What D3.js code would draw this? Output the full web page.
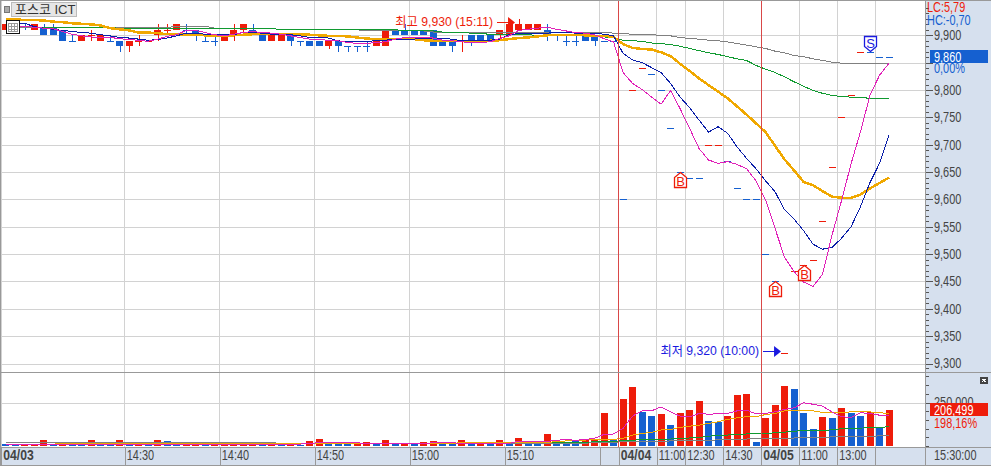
<!DOCTYPE html>
<html>
<head>
<meta charset="utf-8">
<script src="https://d3js.org/d3.v7.min.js"></script>
<style>
html, body { margin: 0; padding: 0; background: #fff; }
svg { display: block; }
text { font-family: "Liberation Sans", "Noto Sans CJK KR", sans-serif; }
.crisp { shape-rendering: crispEdges; }
.domain { display: none; }
</style>
</head>
<body>
<div id="chart"></div>
<script>
const WIDTH = 991, HEIGHT = 466;
const PLOT_R = 925, PRICE_TOP = 1, PRICE_BOTTOM = 372, VOL_BOTTOM = 447;
const colorUp = '#ee1c0a', colorDown = '#1560d0', axisText = '#444', gridColor = '#d2d2d2', frameColor = '#999', panelBg = '#d6e0ee';

// bar direction, open, close, high, low per bar (04/03 intraday, then 04/04, 04/05)
const candleDir = ('u d d u d d d d u u u d d u u u u u u d d d d u u u d d u u ' +
    'd d d d u d d d d u u d d d d d d d u d d d u u u u u d d d d d d d d ' +
    'd u u d d d d d d u u d d d d d d u u u u u u u u u d d').split(' ');
const openP = [9910,9915,9915,9910,9915,9915,9910,9890,9890,9900,
    9890,9890,9890,9880,9890,9890,9900,9910,9910,9910,
    9910,9890,9890,9890,9900,9910,9910,9900,9890,9890,
    9900,9890,9890,9890,9880,9890,9880,9880,9880,9880,
    9880,9910,9910,9910,9910,9910,9890,9890,9890,9900,
    9900,9900,9900,9900,9910,9910,9910,9910,9900,9890,
    9890,9900,9900,9890,9890,9600,9800,9840,9830,9800,
    9730,9650,9640,9640,9700,9700,9670,9620,9600,9600,
    9500,9450,9320,9470,9480,9490,9560,9660,9750,9790,
    9870,9870,9860,9860];
const closeP = [9920,9910,9915,9920,9900,9900,9890,9890,9900,9900,
    9900,9890,9880,9890,9890,9890,9910,9910,9920,9910,
    9900,9890,9890,9900,9910,9920,9900,9890,9900,9900,
    9890,9890,9880,9880,9890,9880,9880,9880,9880,9890,
    9910,9900,9900,9900,9900,9880,9880,9880,9890,9890,
    9890,9890,9910,9920,9920,9920,9920,9900,9900,9890,
    9890,9890,9890,9890,9890,9600,9800,9840,9830,9800,
    9730,9650,9640,9640,9700,9700,9670,9620,9600,9600,
    9500,9450,9320,9470,9480,9490,9560,9660,9750,9790,
    9870,9870,9860,9860];
const highP = [9920,9920,9920,9920,9920,9920,9910,9900,9900,9910,
    9900,9900,9890,9890,9900,9892,9920,9920,9920,9920,
    9910,9900,9900,9900,9920,9920,9920,9900,9900,9900,
    9900,9890,9890,9890,9890,9890,9880,9880,9890,9890,
    9910,9910,9920,9910,9910,9910,9890,9890,9900,9900,
    9900,9900,9910,9920,9930,9920,9920,9920,9900,9900,
    9900,9900,9900,9890,9890,9600,9800,9840,9830,9800,
    9730,9650,9640,9640,9700,9700,9670,9620,9600,9600,
    9500,9450,9320,9470,9480,9490,9560,9660,9750,9790,
    9870,9870,9860,9860];
const lowP = [9910,9905,9910,9910,9900,9900,9890,9890,9890,9890,
    9890,9890,9870,9870,9880,9888,9890,9900,9910,9900,
    9890,9890,9880,9890,9890,9900,9900,9890,9890,9890,
    9880,9880,9880,9880,9875,9870,9870,9870,9870,9880,
    9880,9900,9900,9900,9900,9880,9880,9870,9870,9880,
    9890,9890,9890,9900,9910,9910,9910,9890,9890,9880,
    9880,9890,9880,9890,9890,9600,9800,9840,9830,9800,
    9730,9650,9640,9640,9700,9700,9670,9620,9600,9600,
    9500,9450,9320,9470,9480,9490,9560,9660,9750,9790,
    9870,9870,9860,9860];

// moving averages on price
const maMagenta = [9919,9917,9916,9915,9913,9912,9907,9902,9899,9897,
    9896,9896,9894,9892,9891,9889,9893,9898,9901,9909,
    9909,9905,9901,9899,9902,9905,9907,9905,9904,9902,
    9899,9896,9893,9892,9891,9890,9887,9885,9885,9887,
    9888,9893,9896,9896,9896,9895,9891,9890,9888,9887,
    9887,9888,9894,9899,9909,9911,9913,9915,9911,9908,
    9905,9904,9901,9894,9888,9832,9812,9801,9787,9774,
    9799,9766,9730,9693,9672,9666,9669,9664,9656,9634,
    9599,9547,9494,9468,9449,9441,9463,9535,9598,9665,
    9724,9791,9827,9849];
const maNavy = [9925,9923,9922,9916,9913,9911,9909,9907,9905,9904,
    9901,9899,9896,9895,9893,9891,9892,9895,9899,9904,
    9904,9902,9901,9901,9901,9905,9905,9904,9902,9901,
    9901,9899,9896,9896,9895,9890,9888,9888,9889,9890,
    9891,9893,9893,9893,9895,9895,9894,9893,9890,9890,
    9891,9891,9893,9901,9903,9904,9904,9904,9905,9905,
    9904,9904,9904,9902,9899,9867,9855,9850,9841,9832,
    9812,9787,9768,9745,9723,9733,9721,9696,9675,9656,
    9634,9614,9581,9564,9543,9518,9509,9512,9529,9550,
    9587,9631,9666,9718];
const maOrange = [9929,9929,9928,9928,9927,9925,9924,9922,9921,9920,
    9918,9913,9911,9909,9905,9905,9904,9902,9902,9901,
    9901,9900,9900,9900,9900,9901,9902,9902,9902,9902,
    9902,9902,9901,9900,9899,9899,9898,9896,9894,9893,
    9893,9893,9893,9893,9891,9890,9890,9890,9890,9890,
    9890,9890,9891,9893,9895,9896,9898,9900,9901,9901,
    9901,9900,9899,9899,9897,9884,9877,9875,9874,9869,
    9862,9848,9835,9821,9809,9797,9785,9770,9755,9739,
    9723,9698,9673,9653,9632,9626,9615,9605,9603,9603,
    9609,9620,9630,9640];
const maGreen = [9916,9916,9916,9915,9915,9915,9915,9915,9915,9915,
    9914,9914,9913,9913,9913,9913,9913,9913,9913,9913,
    9913,9912,9912,9912,9912,9912,9912,9912,9912,9911,
    9911,9911,9911,9911,9911,9911,9911,9911,9910,9910,
    9910,9910,9909,9909,9909,9908,9906,9905,9905,9904,
    9903,9902,9902,9902,9901,9901,9900,9900,9901,9902,
    9902,9902,9899,9897,9896,9891,9890,9889,9886,9885,
    9883,9880,9876,9872,9868,9865,9861,9857,9854,9845,
    9838,9832,9824,9815,9807,9799,9794,9790,9788,9787,
    9786,9785,9785,9785];
const maGray = [9914,9914,9914,9914,9914,9914,9914,9914,9914,9914,
    9914,9914,9914,9914,9914,9914,9914,9914,9917,9917,
    9917,9917,9913,9913,9913,9913,9913,9913,9913,9910,
    9910,9910,9910,9910,9910,9910,9910,9910,9908,9908,
    9908,9908,9908,9908,9908,9906,9906,9906,9906,9905,
    9905,9905,9905,9905,9905,9905,9905,9906,9906,9906,
    9906,9905,9905,9905,9904,9903,9902,9902,9901,9900,
    9899,9896,9894,9893,9891,9890,9888,9885,9882,9879,
    9876,9871,9868,9863,9861,9857,9854,9851,9849,9849,
    9849,9849,9849,9849];

// volume
const volDir = ('d d u u u d u d d u d d u d u d u d d u u d u u u u u d u d ' +
    'u d u u d d d u u d u d u d u u d d u d u d u d u d d u d d d u u u d ' +
    'u u d d u d u u u d d u u u d u u u d d d u d u d d u d u').split(' ');
const volumes = [11400,5700,5700,5700,34300,5700,11400,11400,5700,34300,
    11400,5700,34300,11400,11400,11400,34300,28600,11400,11400,
    11400,11400,7600,7600,11400,7600,7600,7600,11400,5700,
    5700,5700,28600,40000,11400,11400,11400,11400,22900,11400,
    34300,11400,11400,11400,22900,28600,22900,11400,34300,11400,
    11400,11400,34300,11400,45800,11400,11400,68700,34300,11400,
    34300,34300,40000,189000,36000,269000,337000,195000,172000,183000,
    120000,189000,206000,257000,143000,137000,172000,292000,297000,23000,
    160000,235000,343000,326000,189000,97000,166000,160000,217000,189000,
    172000,195000,109000,206499];
// volume averages, in thousands
const volMaMagenta = [11,11,11,11,11,11,11,11,11,11,11,11,11,11,11,11,11,11,11,11,
    11,11,11,11,11,11,11,11,11,11,11,11,15,19,19,19,19,19,13,13,
    13,13,13,13,13,19,19,19,15,15,15,15,15,15,27,27,27,27,32,38,
    32,38,44,67,69,101,172,202,202,225,196,172,168,187,183,185,187,202,206,185,
    187,196,210,219,248,240,229,196,168,164,191,187,177,177];
const volMaOrange = [11,11,11,11,11,11,13,13,13,13,13,13,13,13,13,13,13,13,13,13,
    13,13,13,13,13,13,13,13,13,13,13,13,13,13,13,13,13,13,13,13,
    13,13,13,13,13,13,13,13,21,21,21,21,21,21,21,21,21,21,25,29,
    32,34,38,38,38,44,63,72,78,92,95,107,114,120,130,139,153,162,168,168,
    181,187,202,206,206,202,193,193,193,196,198,196,191,187];
const volMaGreen = [19,19,19,19,19,19,19,19,19,19,19,19,19,19,19,19,19,19,19,19,
    19,19,19,19,19,19,19,19,19,15,15,15,15,15,15,15,15,15,15,15,
    15,15,15,15,15,15,15,15,15,15,15,19,19,19,19,19,19,19,19,19,
    19,19,25,25,27,31,32,38,38,38,40,44,46,48,57,59,63,65,69,71,
    72,76,80,84,90,90,90,93,99,101,103,105,107,111];
const volMaGray = [19,19,19,19,19,19,19,19,19,19,19,19,19,19,19,19,19,19,19,19,
    19,19,19,19,19,19,19,19,19,15,15,15,15,15,15,15,15,15,15,15,
    15,15,15,15,15,15,15,15,15,15,15,15,15,15,15,15,15,15,15,15,
    15,15,21,21,21,25,27,27,27,27,29,31,31,33,33,35,36,38,40,42,
    42,44,44,46,48,48,50,52,54,54,56,56,58,61];

// x axis
const tickIdx = [0,13,23,33,43,53,63,65,69,72,76,80,84,88,92];
const tickLabels = ['04/03','14:30','14:40','14:50','15:00','15:10','','04/04','11:00','12:30','14:30','04/05','11:00','13:00',''];
const boldTicks = ['04/03','04/04','04/05'];
const dayLines = [65, 80];
// trade markers
const buyMarks = [71, 81, 84];
const sellMarks = [91];

const N = volumes.length;
const svg = d3.select('#chart').append('svg').attr('width', WIDTH).attr('height', HEIGHT)
    .attr('viewBox', [0, 0, WIDTH, HEIGHT]);

const xBand = d3.scaleBand().domain(d3.range(N)).range([0.8, 0.8 + 9.5 * N]).paddingInner(0.26).paddingOuter(0.13);
const xEdge = d3.scaleLinear().domain([0, N]).range([0.8, 0.8 + 9.5 * N]);
const xMid = i => xBand(i) + xBand.bandwidth() / 2;
const yPrice = d3.scaleLinear().domain([9300, 9900]).range([363.5, 35.3]);
const yVol = d3.scaleLinear().domain([0, 250000]).range([446, 402.5]);

// the chart font is narrower than anything installed, so squeeze the glyphs
function Squeeze(sel, factor) {
    sel.each(function () {
        const len = this.getComputedTextLength();
        if (len > 0) {
            d3.select(this).attr('textLength', len * factor).attr('lengthAdjust', 'spacingAndGlyphs');
        }
    });
}

// backgrounds
svg.append('rect').attr('class', 'crisp').attr('x', 0).attr('y', 0).attr('width', WIDTH).attr('height', HEIGHT).attr('fill', panelBg);
svg.append('rect').attr('class', 'crisp').attr('x', 0).attr('y', 0).attr('width', PLOT_R).attr('height', VOL_BOTTOM).attr('fill', '#fff');

// grid
const grid = svg.append('g').attr('class', 'crisp').attr('stroke', gridColor);
grid.selectAll('.gx').data(tickIdx).join('line')
    .attr('x1', d => Math.round(xEdge(d)) + 0.5).attr('x2', d => Math.round(xEdge(d)) + 0.5)
    .attr('y1', PRICE_TOP).attr('y2', VOL_BOTTOM);
grid.selectAll('.gy').data(d3.range(9300, 9901, 50)).join('line')
    .attr('x1', 0).attr('x2', PLOT_R)
    .attr('y1', d => Math.round(yPrice(d)) + 0.5).attr('y2', d => Math.round(yPrice(d)) + 0.5);
grid.append('line').attr('x1', 0).attr('x2', PLOT_R)
    .attr('y1', Math.round(yVol(250000)) + 0.5).attr('y2', Math.round(yVol(250000)) + 0.5);

// volume bars
svg.append('g').attr('class', 'crisp').selectAll('rect').data(volumes).join('rect')
    .attr('x', (d, i) => Math.round(xBand(i)))
    .attr('width', 7)
    .attr('y', d => yVol(d))
    .attr('height', d => yVol(0) - yVol(d))
    .attr('fill', (d, i) => volDir[i] === 'u' ? colorUp : colorDown);

function DrawLine(data, accessor, yScale, color, width) {
    svg.append('path')
        .datum(data)
        .attr('class', 'crisp')
        .attr('fill', 'none')
        .attr('stroke', color)
        .attr('stroke-width', width)
        .attr('d', d3.line().x((d, i) => xMid(i)).y(d => yScale(accessor(d))));
}
DrawLine(volMaGreen, d => d * 1000, yVol, '#109a30', 1);
DrawLine(volMaGray, d => d * 1000, yVol, '#808080', 1);
DrawLine(volMaOrange, d => d * 1000, yVol, '#f0a800', 1);
DrawLine(volMaMagenta, d => d * 1000, yVol, '#e020b8', 1);

// candles
const candles = svg.append('g').attr('class', 'crisp');
const candleColor = i => candleDir[i] === 'u' ? colorUp : colorDown;
candles.selectAll('.wick').data(highP).join('line')
    .attr('x1', (d, i) => Math.round(xMid(i)) + 0.5).attr('x2', (d, i) => Math.round(xMid(i)) + 0.5)
    .attr('y1', d => yPrice(d)).attr('y2', (d, i) => yPrice(lowP[i]))
    .attr('stroke', (d, i) => candleColor(i));
candles.selectAll('.body').data(openP).join('rect')
    .attr('x', (d, i) => Math.round(xBand(i)))
    .attr('width', 7)
    .attr('y', (d, i) => yPrice(Math.max(d, closeP[i])))
    .attr('height', (d, i) => Math.max(1, Math.abs(yPrice(d) - yPrice(closeP[i]))))
    .attr('fill', (d, i) => candleColor(i));

// moving averages
DrawLine(maGray, d => d, yPrice, '#808080', 1);
DrawLine(maGreen, d => d, yPrice, '#109a30', 1);
DrawLine(maOrange, d => d, yPrice, '#f0a800', 2.5);
DrawLine(maNavy, d => d, yPrice, '#0a1ea8', 1);
DrawLine(maMagenta, d => d, yPrice, '#e020b8', 1);

// day separators
svg.append('g').attr('class', 'crisp').selectAll('line').data(dayLines).join('line')
    .attr('x1', d => Math.round(xEdge(d)) + 0.5).attr('x2', d => Math.round(xEdge(d)) + 0.5)
    .attr('y1', PRICE_TOP).attr('y2', VOL_BOTTOM)
    .attr('stroke', '#d94848');

// buy / sell marks
svg.append('g').selectAll('g').data(buyMarks).join('g')
    .attr('transform', d => `translate(${Math.round(xMid(d)) + 0.5},${Math.round(yPrice(lowP[d])) + 0.5})`)
    .call(g => g.append('path').attr('d', 'M0,0L6,5V15H-6V5Z').attr('fill', '#fff').attr('stroke', colorUp).attr('stroke-width', 1.3))
    .call(g => g.append('text').attr('y', 13.5).attr('text-anchor', 'middle').attr('font-size', 13).attr('fill', colorUp).text('B'));
svg.append('g').selectAll('g').data(sellMarks).join('g')
    .attr('transform', d => `translate(${Math.round(xMid(d)) + 0.5},${Math.round(yPrice(highP[d])) - 0.5})`)
    .call(g => g.append('path').attr('d', 'M0,0L6,-5V-15H-6V-5Z').attr('fill', '#fff').attr('stroke', '#1a1ae0').attr('stroke-width', 1.3))
    .call(g => g.append('text').attr('y', -3.5).attr('text-anchor', 'middle').attr('font-size', 13).attr('fill', '#1a1ae0').text('S'));

// high / low notes
function PriceNote(label, idx, price, offset, color) {
    const tip = xBand(idx) - 1, yy = Math.round(yPrice(price)) + offset;
    svg.append('text').attr('x', tip - 21).attr('y', yy + 4).attr('text-anchor', 'end')
        .attr('font-size', 13).attr('fill', color).text(label)
        .call(Squeeze, 0.94);
    svg.append('path').attr('class', 'crisp').attr('stroke', color).attr('fill', 'none')
        .attr('d', `M${tip - 17},${yy + 0.5}H${tip - 4}`);
    svg.append('path').attr('fill', color).attr('d', `M${tip - 6},${yy - 5}L${tip + 1},${yy + 0.5}L${tip - 6},${yy + 6}Z`);
}
PriceNote('최고 9,930 (15:11)', 54, 9930, 3, colorUp);
PriceNote('최저 9,320 (10:00)', 82, 9320, -2, '#1a1ae0');

// right price axis
const priceAxis = svg.append('g').attr('transform', `translate(${PLOT_R + 1},0)`);
priceAxis.append('g').attr('class', 'crisp')
    .call(d3.axisRight(yPrice).tickValues(d3.range(9300, 9951, 10)).tickSize(3).tickFormat(''));
priceAxis.append('g').attr('class', 'crisp')
    .call(d3.axisRight(yPrice).tickValues(d3.range(9300, 9901, 50)).tickSize(7).tickPadding(1)
        .tickFormat(d => d === 9850 ? '' : d3.format(',')(d)));
priceAxis.selectAll('text').attr('font-size', 14).attr('fill', axisText).call(Squeeze, 0.78);
priceAxis.selectAll('line').attr('stroke', '#555');

// right volume axis
const volAxis = svg.append('g').attr('transform', `translate(${PLOT_R + 1},0)`);
volAxis.append('g').attr('class', 'crisp')
    .call(d3.axisRight(yVol).tickValues(d3.range(0, 450001, 50000)).tickSize(3).tickFormat(''));
volAxis.append('g').attr('class', 'crisp')
    .call(d3.axisRight(yVol).tickValues([250000]).tickSize(7).tickPadding(1).tickFormat(d3.format(',')));
volAxis.selectAll('text').attr('font-size', 14).attr('fill', axisText).call(Squeeze, 0.78);
volAxis.selectAll('line').attr('stroke', '#555');

// last value boxes
function LastBox(y, color, label) {
    svg.append('rect').attr('class', 'crisp').attr('x', 930).attr('y', y).attr('width', 58).attr('height', 13).attr('fill', color);
    svg.append('text').attr('x', 934).attr('y', y + 12).attr('font-size', 14).attr('fill', '#fff').text(label).call(Squeeze, 0.78);
}
LastBox(50, colorDown, '9,860');
LastBox(403, colorUp, '206,499');
const sideNotes = [['LC:5,79', 927, 12, colorUp], ['HC:-0,70', 927, 25, colorDown], ['0,00%', 934, 73, colorDown], ['198,16%', 934, 428, colorUp]];
svg.append('g').selectAll('text').data(sideNotes).join('text')
    .attr('x', d => d[1]).attr('y', d => d[2]).attr('fill', d => d[3]).attr('font-size', 14).text(d => d[0])
    .call(Squeeze, 0.78);

// small close button on volume panel
svg.append('rect').attr('class', 'crisp').attr('x', 980).attr('y', 377).attr('width', 8).attr('height', 7).attr('fill', '#444');
svg.append('path').attr('class', 'crisp').attr('stroke', '#fff').attr('d', 'M982,379L986,382M986,379L982,382');

// bottom time axis
const timeAxis = svg.append('g').attr('transform', `translate(0,${VOL_BOTTOM})`)
    .call(d3.axisBottom(xEdge).tickValues(tickIdx).tickSize(18)
        .tickFormat((d, i) => tickLabels[i]));
timeAxis.selectAll('line').attr('class', 'crisp').attr('stroke', frameColor).attr('x1', 0.5).attr('x2', 0.5);
timeAxis.selectAll('text')
    .attr('text-anchor', 'start').attr('x', 2).attr('y', 13).attr('dy', 0)
    .attr('font-size', 14).attr('fill', axisText)
    .attr('font-weight', (d, i) => boldTicks.includes(tickLabels[i]) ? 'bold' : null)
    .each(function (d, i) { Squeeze(d3.select(this), boldTicks.includes(tickLabels[i]) ? 0.87 : 0.78); });
svg.append('text').attr('x', 934).attr('y', 460).attr('font-size', 14).attr('fill', axisText).text('15:30:00').call(Squeeze, 0.78);

// frame lines
const frame = svg.append('g').attr('class', 'crisp').attr('stroke', frameColor);
[[0.5, 0, 0.5, HEIGHT], [0, 0.5, WIDTH, 0.5], [PLOT_R + 0.5, 0, PLOT_R + 0.5, HEIGHT],
    [0, PRICE_BOTTOM + 0.5, WIDTH, PRICE_BOTTOM + 0.5], [0, VOL_BOTTOM + 0.5, WIDTH, VOL_BOTTOM + 0.5],
    [0, HEIGHT - 0.5, WIDTH, HEIGHT - 0.5]].forEach(d => {
    frame.append('line').attr('x1', d[0]).attr('y1', d[1]).attr('x2', d[2]).attr('y2', d[3]);
});

// stock name tag and small icons
svg.append('rect').attr('class', 'crisp').attr('x', 4).attr('y', 6).attr('width', 5).attr('height', 6).attr('fill', '#aaa').attr('stroke', '#777');
svg.append('rect').attr('class', 'crisp').attr('x', 11.5).attr('y', 2.5).attr('width', 65).attr('height', 14).attr('fill', '#e6e6e6').attr('stroke', '#bbb');
svg.append('text').attr('x', 15).attr('y', 14).attr('font-size', 13).attr('fill', '#333').text('포스코 ICT');
svg.append('rect').attr('class', 'crisp').attr('x', 6.5).attr('y', 20.5).attr('width', 13).attr('height', 13).attr('fill', '#fff').attr('stroke', '#111');
svg.append('path').attr('class', 'crisp').attr('stroke', '#999').attr('fill', 'none')
    .attr('d', 'M8.5,23.5H17.5V31.5H8.5ZM11.5,23.5V31.5M14.5,23.5V31.5M8.5,26.5H17.5M8.5,29.5H17.5');
</script>
</body>
</html>
